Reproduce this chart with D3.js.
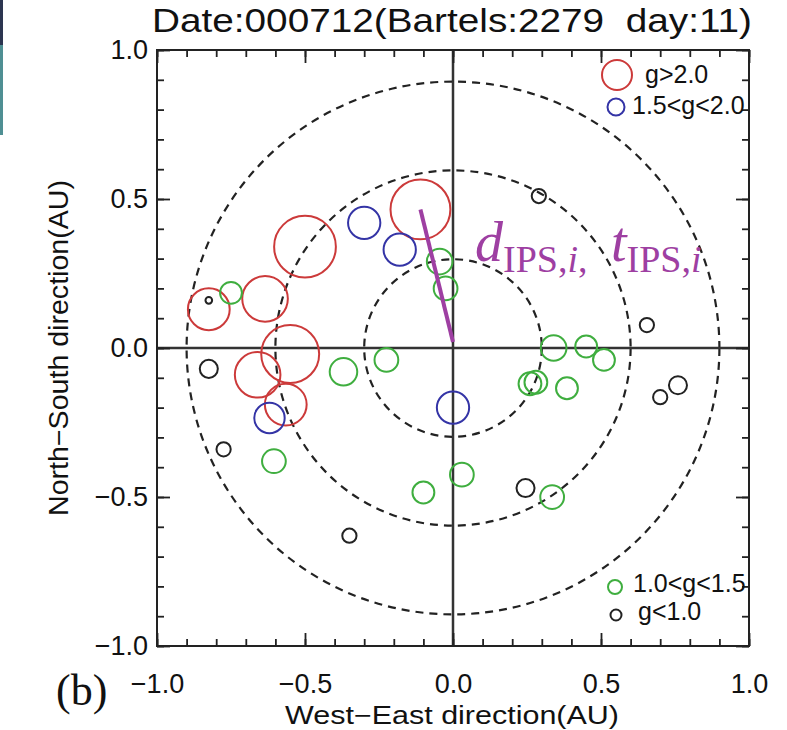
<!DOCTYPE html>
<html>
<head>
<meta charset="utf-8">
<script src="https://cdn.jsdelivr.net/npm/d3@7"></script>
<style>
  html, body { margin: 0; padding: 0; background: #fff; }
  svg { display: block; }
</style>
</head>
<body>
<div id="chart"></div>
<script>
// IPS source positions (AU) and g-values
const posX = [-0.11, -0.50, -0.635, -0.825, -0.66, -0.55, -0.565,
              -0.30, -0.18, -0.62, 0.0,
              -0.045, -0.025, -0.75, -0.37, -0.225, -0.605, -0.10, 0.03, 0.34, 0.45, 0.51, 0.26, 0.28, 0.385, 0.335,
              -0.825, -0.825, -0.775, -0.35, 0.29, 0.655, 0.76, 0.70, 0.245];
const posY = [0.465, 0.34, 0.165, 0.13, -0.09, -0.02, -0.19,
              0.42, 0.33, -0.235, -0.20,
              0.29, 0.20, 0.185, -0.08, -0.04, -0.38, -0.485, -0.425, 0.0, 0.005, -0.04, -0.12, -0.115, -0.135, -0.50,
              0.16, -0.07, -0.34, -0.63, 0.51, 0.077, -0.125, -0.165, -0.47];
const gValue = [3.15, 3.25, 2.4, 2.2, 2.4, 3.05, 2.2,
                1.7, 1.7, 1.6, 1.7,
                1.35, 1.25, 1.15, 1.45, 1.25, 1.25, 1.15, 1.25, 1.35, 1.15, 1.15, 1.2, 1.2, 1.15, 1.25,
                0.35, 0.95, 0.75, 0.75, 0.75, 0.75, 0.95, 0.75, 0.95];

const ringRadii = [0.3, 0.6, 0.9];
const majorTicks = [-1.0, -0.5, 0.0, 0.5, 1.0];
const minorTicks = d3.range(-10, 11).map(d => d / 10);

const legendLabels = ["g>2.0", "1.5<g<2.0", "1.0<g<1.5", "g<1.0"];
const legendColors = ["#cc3a3a", "#3434a6", "#3fae3f", "#222222"];

// line from the selected source towards the Sun
const pathFrom = [-0.11, 0.465];
const pathTo = [0.0, 0.02];

const titleText = "Date:000712(Bartels:2279  day:11)";

const W = 787, H = 730;
const frame = {left: 157, right: 749, top: 50, bottom: 646};
const sans = "Liberation Sans, Arial, sans-serif";
const serif = "Liberation Serif, Times New Roman, serif";

const svg = d3.select("#chart").append("svg")
    .attr("width", W)
    .attr("height", H);

svg.append("rect").attr("width", W).attr("height", H).attr("fill", "#fff");

// scan artifacts on the left edge
svg.append("rect").attr("x", 0).attr("y", 0).attr("width", 3).attr("height", 45).attr("fill", "#2c3550");
svg.append("rect").attr("x", 0).attr("y", 45).attr("width", 3).attr("height", 90).attr("fill", "#4f8f93");

const x = d3.scaleLinear().domain([-1, 1]).range([frame.left, frame.right]);
const y = d3.scaleLinear().domain([-1, 1]).range([frame.bottom, frame.top]);
const r = d3.scaleLinear().domain([0, 1]).range([0, 9.5]);

const colorOf = g => g > 2.0 ? legendColors[0] : g > 1.5 ? legendColors[1] : g > 1.0 ? legendColors[2] : legendColors[3];

// dashed distance rings
svg.append("g")
    .selectAll("circle")
    .data(ringRadii)
    .join("circle")
    .attr("cx", x(0))
    .attr("cy", y(0))
    .attr("r", d => x(d) - x(0))
    .attr("fill", "none")
    .attr("stroke", "#222")
    .attr("stroke-width", 2.2)
    .attr("stroke-dasharray", "8,6");

// cross hairs through the Sun
svg.append("line")
    .attr("x1", x(-1)).attr("x2", x(1))
    .attr("y1", y(0)).attr("y2", y(0))
    .attr("stroke", "#333").attr("stroke-width", 2.5);
svg.append("line")
    .attr("x1", x(0)).attr("x2", x(0))
    .attr("y1", y(-1)).attr("y2", y(1))
    .attr("stroke", "#333").attr("stroke-width", 2.5);

// IPS sources
const points = posX.map((d, i) => ({x: d, y: posY[i], g: gValue[i]}));

svg.append("g")
    .selectAll("circle")
    .data(points)
    .join("circle")
    .attr("cx", d => x(d.x))
    .attr("cy", d => y(d.y))
    .attr("r", d => r(d.g))
    .attr("fill", "none")
    .attr("stroke", d => colorOf(d.g))
    .attr("stroke-width", 2);

// axes with inward ticks, IDL style
const fmt = d3.format(".1f");

function addAxis(axisFn, scale, transform, values, size, labels) {
    const a = axisFn(scale)
        .tickValues(values)
        .tickSize(-size)
        .tickPadding(labels ? 10 : 0)
        .tickFormat(labels ? fmt : "");
    const g = svg.append("g").attr("transform", transform).call(a);
    g.select(".domain").remove();
    g.selectAll(".tick line").attr("stroke", "#222").attr("stroke-width", 1.8);
    g.selectAll(".tick text")
        .attr("font-family", sans)
        .attr("font-size", 27)
        .attr("fill", "#111");
    return g;
}

addAxis(d3.axisBottom, x, `translate(0,${frame.bottom})`, minorTicks, 7, false);
const xAx = addAxis(d3.axisBottom, x, `translate(0,${frame.bottom})`, majorTicks, 13, true);
xAx.selectAll(".tick text").attr("y", 28);
addAxis(d3.axisTop, x, `translate(0,${frame.top})`, minorTicks, 7, false);
addAxis(d3.axisTop, x, `translate(0,${frame.top})`, majorTicks, 13, false);
addAxis(d3.axisLeft, y, `translate(${frame.left},0)`, minorTicks, 7, false);
const yAx = addAxis(d3.axisLeft, y, `translate(${frame.left},0)`, majorTicks, 13, true);
yAx.selectAll(".tick text").attr("x", -9);
addAxis(d3.axisRight, y, `translate(${frame.right},0)`, minorTicks, 7, false);
addAxis(d3.axisRight, y, `translate(${frame.right},0)`, majorTicks, 13, false);

// plot frame
svg.append("rect")
    .attr("x", frame.left).attr("y", frame.top)
    .attr("width", frame.right - frame.left)
    .attr("height", frame.bottom - frame.top)
    .attr("fill", "none")
    .attr("stroke", "#222")
    .attr("stroke-width", 2);

// title and axis titles
svg.append("text")
    .attr("x", 452).attr("y", 32)
    .attr("text-anchor", "middle")
    .attr("font-family", "Liberation Sans Narrow, " + sans)
    .attr("font-size", 33)
    .attr("textLength", 600)
    .attr("lengthAdjust", "spacingAndGlyphs")
    .style("white-space", "pre")
    .attr("fill", "#111")
    .text(titleText);

svg.append("text")
    .attr("x", 452).attr("y", 724)
    .attr("text-anchor", "middle")
    .attr("font-family", sans)
    .attr("font-size", 25)
    .attr("textLength", 334)
    .attr("lengthAdjust", "spacingAndGlyphs")
    .attr("fill", "#111")
    .text("West\u2212East direction(AU)");

svg.append("text")
    .attr("transform", `translate(68,${y(0)}) rotate(-90)`)
    .attr("text-anchor", "middle")
    .attr("font-family", sans)
    .attr("font-size", 27)
    .attr("textLength", 336)
    .attr("lengthAdjust", "spacingAndGlyphs")
    .attr("fill", "#111")
    .text("North\u2212South direction(AU)");

svg.append("text")
    .attr("x", 56).attr("y", 705)
    .attr("font-family", serif)
    .attr("font-size", 44)
    .attr("fill", "#111")
    .text("(b)");

// legend
const legendLayout = [
    {cx: 617, cy: 75, rr: 15, tx: 645, ty: 83},
    {cx: 616, cy: 107, rr: 8.5, tx: 632, ty: 114},
    {cx: 615, cy: 587, rr: 7, tx: 633, ty: 592},
    {cx: 616, cy: 615, rr: 5.5, tx: 638, ty: 620}
];
const legend = svg.append("g");
legendLabels.forEach((lab, i) => {
    const L = legendLayout[i];
    legend.append("circle")
        .attr("cx", L.cx).attr("cy", L.cy).attr("r", L.rr)
        .attr("fill", "none").attr("stroke", legendColors[i]).attr("stroke-width", 2);
    legend.append("text")
        .attr("x", L.tx).attr("y", L.ty)
        .attr("font-family", sans)
        .attr("font-size", 25)
        .attr("fill", "#111")
        .text(lab);
});

// annotation
const purple = "#9e3fa2";
svg.append("line")
    .attr("x1", x(pathFrom[0])).attr("y1", y(pathFrom[1]))
    .attr("x2", x(pathTo[0])).attr("y2", y(pathTo[1]))
    .attr("stroke", purple)
    .attr("stroke-width", 4);

function symbolLabel(x0, letter) {
    const t = svg.append("text")
        .attr("x", x0).attr("y", 261)
        .attr("font-family", serif)
        .attr("fill", purple);
    t.append("tspan").attr("font-style", "italic").attr("font-size", 56).text(letter);
    t.append("tspan").attr("font-size", 38).attr("dy", 11).text("IPS,");
    t.append("tspan").attr("font-style", "italic").attr("font-size", 38).text("i");
    return t;
}
const lab1 = symbolLabel(475, "d");
lab1.append("tspan").attr("font-size", 38).text(",");
symbolLabel(611, "t");
</script>
</body>
</html>
